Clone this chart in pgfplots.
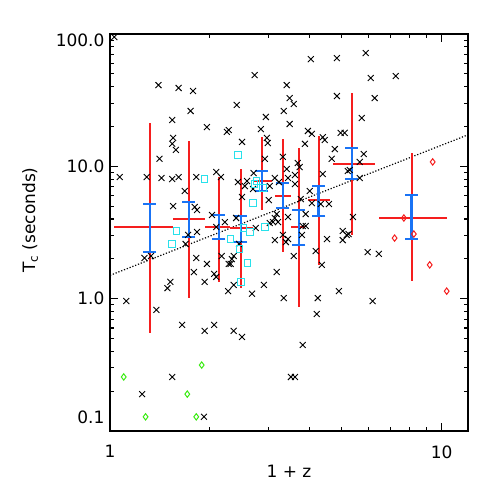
\documentclass[border=0pt]{standalone}
\usepackage{fontspec}
\setmainfont{DejaVu Sans}
\usepackage{pgfplots}
\usepackage{pgfplotstable}
\pgfplotsset{compat=1.18}

\definecolor{errred}{RGB}{245,30,30}
\definecolor{errblue}{RGB}{25,115,245}
\definecolor{sqcyan}{RGB}{40,225,235}
\definecolor{dmgreen}{RGB}{60,235,20}

% bins: centre, bin half-widths, red spread
\pgfplotstableread{
x    y     xm   xp   ym   yp
1.32 3.48  0.29 0.23 2.93 17.8
1.73 4.00  0.18 0.20 2.99 11.5
2.13 3.48  0.20 0.17 2.14 4.82
2.48 3.42  0.18 0.22 2.22 6.13
2.87 7.75  0.17 0.21 3.07 8.85
3.32 5.97  0.18 0.19 3.72 10.1
3.71 3.48  0.20 0.16 2.62 10.3
4.26 5.56  0.31 0.34 3.76 11.4
5.36 10.4  0.66 0.92 7.37 25.4
8.12 4.07  1.66 2.23 2.71 8.53
}\redbins

% error on the mean
\pgfplotstableread{
x    y     ym   yp
1.32 3.48  1.23 1.71
1.73 4.00  1.08 1.37
2.13 3.48  0.66 0.81
2.48 3.42  0.74 0.79
2.87 7.75  1.24 1.47
3.32 5.97  1.13 1.51
3.71 3.48  0.94 1.20
4.26 5.56  1.35 1.54
5.36 10.4  2.38 3.40
8.12 4.07  1.25 2.00
}\bluebins

\begin{document}
\begin{tikzpicture}[font=\fontsize{17}{20}\selectfont]
  \path[use as bounding box] (-110pt,-70pt) rectangle (391pt,431pt);
  \begin{loglogaxis}[
      at={(0pt,0pt)}, anchor=south west,
      scale only axis,
      width=358pt, height=397pt,
      xmin=1, xmax=12,
      ymin=0.1, ymax=100,
      xtick={1,10},
      xticklabels={1,10},
      ytick={0.1,1,10,100},
      yticklabel={\ifcase\ticknum\raisebox{8pt}[0pt][0pt]{0.1}\or 1.0\or 10.0\or\raisebox{-13pt}[0pt][0pt]{100.0}\fi},
      xticklabel style={yshift=-11pt},
      yticklabel style={xshift=-2pt},
      tick align=inside,
      major tick length=8pt,
      minor tick length=4pt,
      every tick/.style={black, line width=1.1pt},
      axis line style={line width=1.6pt},
      xlabel={1 + z},
      ylabel={T\textsubscript{c} (seconds)},
      xlabel style={at={(axis description cs:0.5,0)}, anchor=center, yshift=-40pt},
      ylabel style={at={(axis description cs:-0.223,0.531)}, anchor=center},
      clip=false
    ]
    \addplot[black, line width=1.2pt, dash pattern=on 1.2pt off 1.8pt] coordinates {(1,1.50) (12,17.3)};

    \addplot[only marks, mark=x, mark size=4.2pt, black, line width=0.9pt] coordinates {
      (1.03,94.8) (1.40,41.1) (1.61,39.1) (1.78,37.1) (1.75,26.2) (1.54,22.4)
      (1.96,19.8) (2.25,18.2) (2.28,18.8) (1.55,16.4) (1.54,14.8) (1.58,13.3)
      (1.41,11.4) (1.07,8.30) (1.29,8.30) (1.43,8.16) (1.54,8.02) (1.61,8.30)
      (1.82,8.30) (2.09,9.06) (2.16,8.30) (1.68,6.51) (1.55,5.01) (1.80,4.93)
      (1.83,4.68) (2.03,4.29) (2.22,3.79) (2.09,3.48) (1.83,3.19)
      (4.03,64.6) (4.83,65.8) (2.73,48.9) (3.41,41.1) (4.83,34.0) (3.48,32.8)
      (3.58,29.6) (2.41,29.1) (3.34,26.2) (2.95,23.6) (3.48,20.9) (2.85,19.1)
      (3.95,18.5) (4.06,17.6) (4.38,16.6) (4.44,15.8) (4.96,17.9) (5.10,17.9)
      (2.97,16.4) (2.99,15.0) (2.50,15.3) (3.87,14.8) (4.76,13.5) (4.66,11.4)
      (2.93,11.4) (3.32,11.8) (3.68,10.6) (3.73,9.88) (3.41,9.55) (2.71,8.90)
      (4.38,8.75) (5.21,9.22) (2.43,7.61) (2.55,7.10) (2.59,7.75) (2.70,6.74)
      (3.03,7.10) (3.14,8.16) (3.23,7.61) (3.44,8.16) (3.61,8.60) (3.61,7.35)
      (4.00,6.51) (2.50,5.87) (3.01,5.56) (3.76,5.66) (4.06,5.28) (4.32,5.19)
      (4.57,5.19) (3.18,4.36) (3.14,4.07) (3.10,3.79) (3.21,3.79) (3.44,4.14)
      (3.89,4.36) (2.40,4.07) (2.75,3.42) (3.81,3.54) (3.89,3.54) (3.03,3.73)
      (5.03,3.25)
      (5.90,71.8) (6.11,46.5) (7.27,48.1) (6.28,32.8) (5.74,23.2) (5.82,12.4)
      (5.66,10.8) (5.28,9.38) (5.66,8.16) (5.40,4.14)
      (1.72,3.03) (1.69,2.59) (1.27,2.03) (1.33,2.10) (1.82,2.03) (1.79,1.59)
      (1.96,1.83) (2.06,1.54) (2.09,1.46) (1.93,1.34) (2.17,2.10) (2.28,1.83)
      (2.27,1.14) (1.52,1.34) (1.49,1.20) (1.12,0.96) (1.38,0.822) (1.65,0.634)
      (1.93,0.571) (2.06,0.634) (1.54,0.256) (1.25,0.190) (1.92,0.128)
      (2.45,2.59) (2.33,1.99) (2.36,2.10) (2.31,1.83) (2.36,1.27) (2.91,1.27)
      (2.68,1.09) (3.18,1.59) (3.14,2.77) (3.32,3.03) (3.44,2.82) (3.39,2.68)
      (3.58,2.10) (3.79,3.03) (4.17,2.29) (4.35,1.80) (4.51,2.82) (5.03,2.77)
      (5.17,3.03) (4.90,1.14) (3.34,1.01) (4.23,1.01) (4.20,0.766) (2.36,0.571)
      (2.50,0.514) (3.81,0.447) (3.51,0.256) (3.61,0.256) (5.24,3.08) (5.98,2.25)
      (6.46,2.18) (6.19,0.96)
    };

    \addplot[only marks, mark=square, mark size=3.2pt, sqcyan, line width=1pt] coordinates {
      (1.93,8.02) (1.59,3.25) (1.54,2.59) (2.43,12.2) (2.73,7.35) (2.77,7.75)
      (2.89,6.86) (2.70,5.28) (2.93,3.48) (2.53,3.42) (2.64,3.19) (2.31,2.82)
      (2.46,2.37) (2.60,1.86) (2.48,1.34)
    };

    \addplot[only marks, mark=diamond, mark size=3.2pt, dmgreen, line width=1pt] coordinates {
      (1.10,0.256) (1.28,0.128) (1.71,0.190) (1.89,0.315) (1.82,0.128)
    };

    \addplot[only marks, mark=diamond, mark size=3.2pt, errred, line width=1pt] coordinates {
      (7.69,4.07) (9.39,10.8) (7.21,2.87) (8.24,3.08) (9.20,1.80) (10.35,1.14)
    };

    \addplot[draw=none, mark=none,
      error bars/.cd, x dir=both, x explicit, y dir=both, y explicit,
      error mark=none, error bar style={draw=errred, line width=2.2pt}]
      table[x=x, y=y, x error plus=xp, x error minus=xm, y error plus=yp, y error minus=ym] {\redbins};

    \addplot[draw=none, mark=none,
      error bars/.cd, y dir=both, y explicit,
      error bar style={draw=errblue, line width=2.6pt},
      error mark options={rotate=90, draw=errblue, mark size=6.5pt, line width=2.6pt}]
      table[x=x, y=y, y error plus=yp, y error minus=ym] {\bluebins};
  \end{loglogaxis}
\end{tikzpicture}
\end{document}
